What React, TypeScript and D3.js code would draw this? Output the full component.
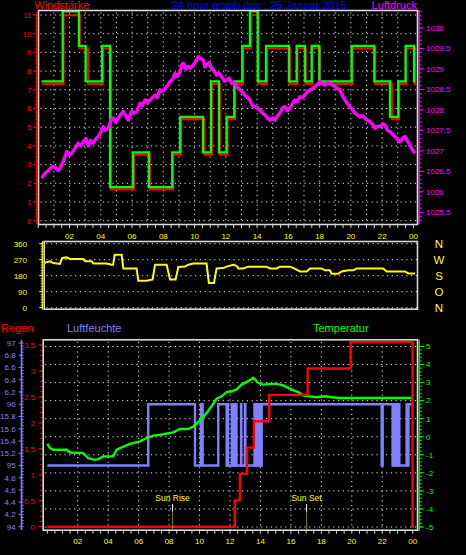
import React from 'react';
import * as d3 from 'd3';

// ---------- data ----------
const hourTickValues = [2, 4, 6, 8, 10, 12, 14, 16, 18, 20, 22, 24];
const hourTickLabels = ['02', '04', '06', '08', '10', '12', '14', '16', '18', '20', '22', '00'];

const windTickValues = [0, 1, 2, 3, 4, 5, 6, 7, 8, 9, 10, 11];
const pressureTickValues = [1025.5, 1026, 1026.5, 1027, 1027.5, 1028, 1028.5, 1029, 1029.5, 1030];
const pressureTickLabels = ['1025.5', '1026', '1026.5', '1027', '1027.5', '1028', '1028.5', '1029', '1029.5', '1030'];

const directionTickValues = [0, 90, 180, 270, 360];
const compassLabels = ['N', 'O', 'S', 'W', 'N'];

const rainTickValues = [0, 0.5, 1, 1.5, 2, 2.5, 3, 3.5];
const rainTickLabels = ['0', '0.5', '1', '1.5', '2', '2.5', '3', '3.5'];
const humidityTickValues = [94, 94.2, 94.4, 94.6, 94.8, 95, 95.2, 95.4, 95.6, 95.8, 96, 96.2, 96.4, 96.6, 96.8, 97];
const humidityTickLabels = ['94', '4.2', '4.4', '4.6', '4.8', '95', '15.2', '15.4', '15.6', '15.8', '96', '6.2', '6.4', '6.6', '6.8', '97'];
const temperatureTickValues = [-5, -4, -3, -2, -1, 0, 1, 2, 3, 4, 5];

// wind gust (green) steps [hour, value]
const windGust: [number, number][] = [
  [0.2, 7.45], [1.56, 11.2], [2.6, 9.35], [3.03, 7.45], [4.08, 9.35], [4.59, 1.8], [6.06, 3.65],
  [7.08, 1.8], [8.57, 3.65], [9.07, 5.55], [10.54, 3.65], [11.05, 7.45], [11.56, 3.65], [12.05, 5.55],
  [12.54, 7.45], [13.05, 9.35], [13.54, 11.2], [14.04, 7.45], [14.57, 9.35], [16.04, 7.45], [16.53, 9.35],
  [17.06, 7.45], [17.49, 9.35], [17.98, 7.45], [20.05, 9.35], [21.5, 7.45], [22.5, 5.55], [23.03, 7.45],
  [23.5, 9.35], [24.04, 7.45], [24.12, 7.45],
];
// wind average (red) steps [hour, value]
const windAvg: [number, number][] = [
  [0.2, 7.38], [1.56, 11.05], [2.6, 9.28], [3.13, 7.38], [4.08, 9.28], [4.59, 1.74], [6.06, 3.6],
  [7.08, 1.74], [8.57, 3.6], [9.07, 5.5], [10.58, 3.6], [11.05, 7.38], [11.56, 3.6], [12.05, 5.5],
  [12.54, 7.38], [13.05, 9.28], [13.54, 11.05], [14.04, 7.38], [14.57, 9.28], [16.04, 7.38], [16.53, 9.28],
  [17.06, 7.38], [17.49, 9.28], [17.98, 7.38], [20.05, 9.28], [21.5, 7.38], [22.57, 5.5], [23.03, 7.38],
  [23.5, 9.28], [24.04, 7.38], [24.12, 7.38],
];

// pressure [hour, hPa]
const pressure: [number, number][] = [
  [0.22, 1026.33], [0.43, 1026.45], [0.6, 1026.5], [0.75, 1026.57], [0.9, 1026.62], [1.07, 1026.61], [1.25, 1026.52],
  [1.39, 1026.57], [1.6, 1026.74], [1.82, 1026.98], [2.0, 1026.9], [2.14, 1026.94], [2.35, 1027.06], [2.56, 1027.19],
  [2.7, 1027.12], [2.88, 1027.22], [3.05, 1027.3], [3.2, 1027.12], [3.35, 1027.25], [3.52, 1027.19], [3.7, 1027.3],
  [3.84, 1027.35], [4.0, 1027.45], [4.16, 1027.59], [4.3, 1027.5], [4.48, 1027.55], [4.65, 1027.75], [4.8, 1027.8],
  [4.95, 1027.7], [5.12, 1027.8], [5.3, 1027.9], [5.44, 1027.96], [5.6, 1027.85], [5.76, 1027.75], [5.9, 1027.9],
  [5.98, 1027.96], [6.15, 1027.92], [6.3, 1027.96], [6.51, 1028.16], [6.65, 1028.1], [6.83, 1028.24], [7.0, 1028.18],
  [7.15, 1028.24], [7.3, 1028.3], [7.47, 1028.36], [7.6, 1028.3], [7.79, 1028.49], [7.95, 1028.45], [8.11, 1028.53],
  [8.25, 1028.58], [8.43, 1028.69], [8.6, 1028.75], [8.75, 1028.89], [8.9, 1028.82], [9.07, 1028.93], [9.18, 1029.1],
  [9.28, 1029.14], [9.45, 1029.0], [9.6, 1029.06], [9.75, 1029.02], [9.92, 1029.1], [10.1, 1029.2], [10.24, 1029.3],
  [10.4, 1029.25], [10.56, 1029.22], [10.66, 1029.05], [10.77, 1029.1], [10.92, 1029.15], [11.09, 1029.02],
  [11.25, 1028.95], [11.41, 1028.85], [11.55, 1028.9], [11.73, 1028.81], [11.9, 1028.7], [12.05, 1028.73],
  [12.2, 1028.78], [12.37, 1028.65], [12.52, 1028.68], [12.69, 1028.57], [12.9, 1028.49], [13.05, 1028.45],
  [13.22, 1028.36], [13.4, 1028.3], [13.54, 1028.24], [13.7, 1028.1], [13.86, 1028.08], [14.02, 1028.05],
  [14.18, 1028.0], [14.35, 1027.92], [14.5, 1027.88], [14.65, 1027.8], [14.82, 1027.75], [14.98, 1027.8],
  [15.14, 1027.75], [15.3, 1027.85], [15.46, 1027.92], [15.62, 1028.05], [15.78, 1028.08], [15.95, 1027.98],
  [16.1, 1028.04], [16.26, 1028.15], [16.42, 1028.24], [16.58, 1028.2], [16.74, 1028.32], [16.9, 1028.3],
  [17.06, 1028.36], [17.22, 1028.45], [17.38, 1028.49], [17.55, 1028.52], [17.7, 1028.57], [17.86, 1028.62],
  [18.02, 1028.69], [18.18, 1028.64], [18.34, 1028.61], [18.5, 1028.68], [18.66, 1028.65], [18.82, 1028.6],
  [18.98, 1028.57], [19.14, 1028.52], [19.3, 1028.49], [19.46, 1028.35], [19.62, 1028.24], [19.78, 1028.15],
  [19.94, 1028.08], [20.1, 1028.0], [20.26, 1027.92], [20.42, 1027.88], [20.58, 1027.83], [20.74, 1027.86],
  [20.9, 1027.8], [21.06, 1027.75], [21.22, 1027.71], [21.38, 1027.65], [21.54, 1027.55], [21.7, 1027.6],
  [21.86, 1027.59], [22.02, 1027.66], [22.18, 1027.63], [22.34, 1027.5], [22.5, 1027.47], [22.66, 1027.4],
  [22.82, 1027.35], [22.98, 1027.28], [23.13, 1027.22], [23.3, 1027.3], [23.45, 1027.35], [23.62, 1027.25],
  [23.77, 1027.14], [23.95, 1027.02], [24.1, 1026.94],
];

// wind direction [hour, degrees]
const direction: [number, number][] = [
  [0, 253], [0.32, 261], [0.54, 251], [0.97, 246], [1.12, 280], [1.4, 283], [1.62, 274], [2.49, 274],
  [2.59, 261], [3.03, 261], [3.14, 249], [4.0, 249], [4.32, 242], [4.42, 242], [4.52, 298], [4.97, 298],
  [5.08, 221], [5.94, 221], [6.05, 152], [6.59, 152], [6.98, 159], [7.14, 242], [7.89, 242], [8.11, 159],
  [8.47, 159], [8.65, 229], [9.08, 232], [9.3, 242], [9.62, 248], [10.48, 248], [10.63, 139], [10.96, 139],
  [11.13, 221], [11.56, 223], [11.78, 231], [12.21, 242], [12.43, 236], [12.54, 221], [12.86, 221],
  [13.18, 231], [14.37, 231], [14.59, 221], [15.02, 221], [15.24, 231], [15.89, 231], [16.1, 224],
  [16.54, 204], [16.97, 204], [17.19, 221], [17.94, 221], [18.16, 210], [18.48, 210], [18.59, 191],
  [19.02, 191], [19.24, 204], [19.68, 210], [20.0, 210], [20.21, 221], [21.94, 221], [22.16, 204],
  [23.35, 204], [23.57, 193], [24, 193],
];

// temperature [hour, °C]
const temperature: [number, number][] = [
  [0, -0.39], [0.18, -0.63], [0.39, -0.72], [1.27, -0.72], [1.49, -0.87], [2.36, -0.91], [2.69, -1.19],
  [3.13, -1.28], [3.35, -1.24], [3.68, -1.09], [4.33, -1.09], [4.56, -0.72], [4.89, -0.59], [5.43, -0.39],
  [6.09, -0.26], [6.53, -0.07], [6.96, 0.06], [7.4, 0.11], [8.27, 0.24], [8.71, 0.43], [9.26, 0.43],
  [9.59, 0.57], [10.03, 0.91], [10.47, 1.32], [10.79, 1.69], [11.12, 2.11], [11.45, 2.24], [11.78, 2.47],
  [12.11, 2.52], [12.44, 2.62], [12.76, 2.89], [13.2, 3.08], [13.53, 3.27], [13.85, 2.99], [14.18, 2.89],
  [14.62, 2.93], [15.06, 2.93], [15.5, 2.84], [15.82, 2.71], [16.15, 2.58], [16.48, 2.47], [16.81, 2.3],
  [17.25, 2.24], [17.69, 2.19], [18.23, 2.24], [18.67, 2.19], [19.22, 2.15], [20.75, 2.15], [24.0, 2.15],
];

// rain (mm, cumulative) steps [hour, value]
const rain: [number, number][] = [
  [0, 0], [12.31, 0.508], [12.65, 1.016], [13.11, 1.524], [13.57, 2.032], [14.58, 2.54],
  [17.1, 3.048], [19.92, 3.556], [23.99, 0], [24.05, 0],
];

// humidity steps [hour, %]
const humidity: [number, number][] = [
  [0, 95], [6.63, 96], [9.7, 95], [10.09, 96], [10.2, 95], [11.23, 96], [11.78, 95], [14.08, 96],
  [21.96, 95], [22.03, 96], [22.68, 95], [23.6, 96], [24, 96],
];
// periods where humidity flickered between 95 and 96 [start, end]
const humidityFlicker: [number, number][] = [
  [6.58, 6.68], [11.78, 11.95], [12.04, 12.5], [12.65, 12.82], [12.9, 13.09], [13.53, 14.08],
  [22.68, 23.2], [23.6, 23.8],
];
const humidityFlickerRange: [number, number] = [95, 96];

const sunRise = 8.23;
const sunSet = 17.03;

// ---------- component ----------
const FONT = 'Liberation Sans, Arial, sans-serif';
const YELLOW = '#ffff00';
const GRID = '#e6e6e6';
const FRAME = '#d8d8d8';
const BLUE_H = '#8080ff';

export default function App() {
  const xTop = d3.scaleLinear().domain([0, 24]).range([38.3, 413.4]);
  const yWind = d3.scaleLinear().domain([0, 11]).range([220.7, 15]);
  const yPress = d3.scaleLinear().domain([1025.5, 1030]).range([212.3, 28]);

  const xMid = d3.scaleLinear().domain([0, 24]).range([45, 415]);
  const yDir = d3.scaleLinear().domain([0, 360]).range([307.7, 243.7]);

  const xBot = d3.scaleLinear().domain([0, 24]).range([47.3, 412.7]);
  const yTemp = d3.scaleLinear().domain([-5, 5]).range([527, 346.5]);
  const yRain = d3.scaleLinear().domain([0, 3.5]).range([526.7, 345]);
  const yHum = d3.scaleLinear().domain([94, 97]).range([526.7, 343]);

  const stepTop = (yS: d3.ScaleLinear<number, number>) =>
    d3.line<[number, number]>().x(d => xTop(d[0])).y(d => yS(d[1])).curve(d3.curveStepAfter);
  const lineTop = d3.line<[number, number]>().x(d => xTop(d[0])).y(d => yPress(d[1]));
  const lineDir = d3.line<[number, number]>().x(d => xMid(d[0])).y(d => yDir(d[1]));
  const lineTemp = d3.line<[number, number]>().x(d => xBot(d[0])).y(d => yTemp(d[1]));
  const stepRain = d3.line<[number, number]>().x(d => xBot(d[0])).y(d => yRain(d[1])).curve(d3.curveStepAfter);
  const stepHum = d3.line<[number, number]>().x(d => xBot(d[0])).y(d => yHum(d[1])).curve(d3.curveStepAfter);

  const halfHours = d3.range(0, 24.01, 0.5);
  const hours = d3.range(1, 24, 1);
  const twoHours = d3.range(2, 24, 2);
  const dots = '1.2,3.6';

  const topFrame = { x0: 38.5, y0: 10.5, x1: 417.5, y1: 224.5 };
  const midFrame = { x0: 44.2, y0: 241.5, x1: 417.5, y1: 309.2 };
  const botFrame = { x0: 43.2, y0: 339.8, x1: 417.5, y1: 530.2 };

  return (
    <svg width={466} height={555} style={{ position: 'absolute', left: 0, top: 0, background: '#000' }} fontFamily={FONT}>
      <rect x={0} y={0} width={466} height={555} fill="#000" />

      {/* ===== TOP PANEL ===== */}
      <text x={34.3} y={9.3} fill="#ff0000" fontSize={11}>Windstärke</text>
      <text x={171.7} y={9.3} fill="#0000ff" fontSize={11}>24 hour graph day : 25 Januar 2015</text>
      <text x={371.7} y={9.3} fill="#ff00ff" fontSize={11}>Luftdruck</text>

      {/* grid */}
      {windTickValues.map(v => (
        <line key={'wg' + v} x1={topFrame.x0 + 2} x2={topFrame.x1} y1={yWind(v)} y2={yWind(v)} stroke={GRID} strokeWidth={1} strokeDasharray={dots} />
      ))}
      {hours.map(h => (
        <line key={'hg' + h} x1={xTop(h)} x2={xTop(h)} y1={topFrame.y0 + 2} y2={topFrame.y1} stroke={GRID} strokeWidth={1} strokeDasharray={dots} />
      ))}

      {/* left wind axis */}
      <line x1={36.7} x2={36.7} y1={12} y2={224} stroke="#ff0000" strokeWidth={1.2} />
      {d3.range(0, 11.01, 0.2).map(v => (
        <line key={'wm' + v} x1={35} x2={36.7} y1={yWind(v)} y2={yWind(v)} stroke="#ff0000" strokeWidth={1} />
      ))}
      {windTickValues.map(v => (
        <g key={'wt' + v}>
          <line x1={33} x2={36.7} y1={yWind(v)} y2={yWind(v)} stroke="#ff0000" strokeWidth={1} />
          <text x={31.5} y={yWind(v)} dy="0.35em" textAnchor="end" fill="#ff0000" fontSize={8}>{v}</text>
        </g>
      ))}

      {/* right pressure axis */}
      <line x1={419.2} x2={419.2} y1={10} y2={224} stroke="#ff00ff" strokeWidth={1.3} />
      {d3.range(1025.3, 1030.41, 0.1).map(v => (
        <line key={'pm' + v.toFixed(1)} x1={419.2} x2={421.6} y1={yPress(v)} y2={yPress(v)} stroke="#ff00ff" strokeWidth={1} />
      ))}
      {pressureTickValues.map((v, i) => (
        <g key={'pt' + v}>
          <line x1={419.2} x2={424.2} y1={yPress(v)} y2={yPress(v)} stroke="#ff00ff" strokeWidth={1} />
          <text x={426} y={yPress(v)} dy="0.35em" fill="#ff00ff" fontSize={8}>{pressureTickLabels[i]}</text>
        </g>
      ))}

      {/* data */}
      <path d={stepTop(yWind)(windAvg) || ''} fill="none" stroke="#ff0000" strokeWidth={2.2} transform="translate(0.8,1.2)" />
      <path d={stepTop(yWind)(windGust) || ''} fill="none" stroke="#00ff00" strokeWidth={2.3} />
      <path d={lineTop(pressure) || ''} fill="none" stroke="#ff00ff" strokeWidth={3.4} strokeLinejoin="round" />

      {/* frame */}
      <rect x={topFrame.x0} y={topFrame.y0} width={topFrame.x1 - topFrame.x0} height={topFrame.y1 - topFrame.y0} fill="none" stroke={FRAME} strokeWidth={1.6} />
      {halfHours.map(h => (
        <line key={'tt' + h} x1={xTop(h)} x2={xTop(h)} y1={topFrame.y1} y2={topFrame.y1 + 3.5} stroke={FRAME} strokeWidth={1} />
      ))}
      {hourTickValues.map((h, i) => (
        <text key={'tl' + h} x={xTop(h)} y={239} textAnchor="middle" fill={YELLOW} fontSize={8}>{hourTickLabels[i]}</text>
      ))}

      {/* ===== MIDDLE PANEL ===== */}
      {directionTickValues.map(v => (
        <line key={'dg' + v} x1={midFrame.x0 + 2} x2={midFrame.x1} y1={yDir(v)} y2={yDir(v)} stroke={GRID} strokeWidth={1} strokeDasharray={dots} />
      ))}
      <line x1={42.4} x2={42.4} y1={241} y2={309.5} stroke={YELLOW} strokeWidth={1.1} />
      {d3.range(0, 361, 15).map(v => (
        <line key={'dm' + v} x1={40.8} x2={42.4} y1={yDir(v)} y2={yDir(v)} stroke={YELLOW} strokeWidth={1} />
      ))}
      {directionTickValues.map(v => (
        <g key={'dt' + v}>
          <line x1={39.2} x2={42.4} y1={yDir(v)} y2={yDir(v)} stroke={YELLOW} strokeWidth={1} />
          <text x={27} y={yDir(v)} dy="0.35em" textAnchor="end" fill={YELLOW} fontSize={8}>{v}</text>
          <text x={439} y={yDir(v)} dy="0.36em" textAnchor="middle" fill={YELLOW} fontSize={11.5}>
            {compassLabels[directionTickValues.indexOf(v)]}
          </text>
        </g>
      ))}
      <path d={lineDir(direction) || ''} fill="none" stroke={YELLOW} strokeWidth={2} />
      <rect x={midFrame.x0} y={midFrame.y0} width={midFrame.x1 - midFrame.x0} height={midFrame.y1 - midFrame.y0} fill="none" stroke={FRAME} strokeWidth={1.6} />

      {/* ===== BOTTOM PANEL ===== */}
      <text x={1} y={331.5} fill="#ff0000" fontSize={11}>Regen</text>
      <text x={67} y={331.5} fill={BLUE_H} fontSize={11}>Luftfeuchte</text>
      <text x={313} y={331.5} fill="#00ff00" fontSize={11}>Temperatur</text>

      {temperatureTickValues.map(v => (
        <line key={'bg' + v} x1={botFrame.x0 + 2} x2={botFrame.x1} y1={yTemp(v)} y2={yTemp(v)} stroke={GRID} strokeWidth={1} strokeDasharray={dots} />
      ))}
      {twoHours.map(h => (
        <line key={'bv' + h} x1={xBot(h)} x2={xBot(h)} y1={botFrame.y0 + 2} y2={botFrame.y1} stroke={GRID} strokeWidth={1} strokeDasharray={dots} />
      ))}

      {/* humidity axis (blue) */}
      <line x1={21.5} x2={21.5} y1={340} y2={530} stroke={BLUE_H} strokeWidth={1.6} />
      {d3.range(94, 97.001, 0.05).map(v => (
        <line key={'hm' + v.toFixed(2)} x1={21.5} x2={23.6} y1={yHum(v)} y2={yHum(v)} stroke={BLUE_H} strokeWidth={1} />
      ))}
      {humidityTickValues.map((v, i) => (
        <g key={'ht' + v}>
          <line x1={18.6} x2={21.5} y1={yHum(v)} y2={yHum(v)} stroke={BLUE_H} strokeWidth={1} />
          <text x={15.6} y={yHum(v)} dy="0.35em" textAnchor="end" fill={BLUE_H} fontSize={8}>{humidityTickLabels[i]}</text>
        </g>
      ))}

      {/* rain axis (red) */}
      {d3.range(0, 3.501, 0.1).map(v => (
        <line key={'rm' + v.toFixed(1)} x1={40.2} x2={42.4} y1={yRain(v)} y2={yRain(v)} stroke="#ff0000" strokeWidth={1} />
      ))}
      {rainTickValues.map((v, i) => (
        <g key={'rt' + v}>
          <line x1={38.4} x2={42.4} y1={yRain(v)} y2={yRain(v)} stroke="#ff0000" strokeWidth={1} />
          <text x={35} y={yRain(v)} dy="0.35em" textAnchor="end" fill="#ff0000" fontSize={8}>{rainTickLabels[i]}</text>
        </g>
      ))}

      {/* temperature axis (green) */}
      <line x1={419.2} x2={419.2} y1={339.5} y2={531} stroke="#00ff00" strokeWidth={1.3} />
      {d3.range(-5, 5.001, 0.2).map(v => (
        <line key={'tm' + v.toFixed(1)} x1={419.2} x2={421.6} y1={yTemp(v)} y2={yTemp(v)} stroke="#00ff00" strokeWidth={1} />
      ))}
      {temperatureTickValues.map(v => (
        <g key={'tmt' + v}>
          <line x1={419.2} x2={424.2} y1={yTemp(v)} y2={yTemp(v)} stroke="#00ff00" strokeWidth={1} />
          <text x={426} y={yTemp(v)} dy="0.35em" fill="#00ff00" fontSize={8}>{v}</text>
        </g>
      ))}

      {/* humidity data */}
      {humidityFlicker.map(([a, b], i) => (
        <rect key={'hf' + i} x={xBot(a)} width={xBot(b) - xBot(a)} y={yHum(humidityFlickerRange[1]) - 1.2}
          height={yHum(humidityFlickerRange[0]) - yHum(humidityFlickerRange[1]) + 2.4} fill={BLUE_H} />
      ))}
      <path d={stepHum(humidity) || ''} fill="none" stroke={BLUE_H} strokeWidth={2.4} />

      {/* temperature */}
      <path d={lineTemp(temperature) || ''} fill="none" stroke="#00ff00" strokeWidth={2.4} />

      {/* rain */}
      <path d={stepRain(rain) || ''} fill="none" stroke="#ff0000" strokeWidth={2.4} />

      {/* sun rise / set */}
      {[{ t: sunRise, label: 'Sun Rise' }, { t: sunSet, label: 'Sun Set' }].map(s => (
        <g key={s.label}>
          <text x={xBot(s.t)} y={500.8} textAnchor="middle" fill={YELLOW} fontSize={8.5}>{s.label}</text>
          <line x1={xBot(s.t)} x2={xBot(s.t)} y1={504} y2={511.5} stroke="#ffffff" strokeWidth={1} />
          <line x1={xBot(s.t)} x2={xBot(s.t)} y1={511.5} y2={529} stroke={YELLOW} strokeWidth={1} strokeDasharray="1,1" />
        </g>
      ))}

      <rect x={botFrame.x0} y={botFrame.y0} width={botFrame.x1 - botFrame.x0} height={botFrame.y1 - botFrame.y0} fill="none" stroke={FRAME} strokeWidth={1.6} />
      {halfHours.map(h => (
        <line key={'bt' + h} x1={xBot(h)} x2={xBot(h)} y1={botFrame.y1} y2={botFrame.y1 + 3.5} stroke={FRAME} strokeWidth={1} />
      ))}
      {hourTickValues.map((h, i) => (
        <text key={'bl' + h} x={xBot(h)} y={544} textAnchor="middle" fill={YELLOW} fontSize={8}>{hourTickLabels[i]}</text>
      ))}
    </svg>
  );
}
